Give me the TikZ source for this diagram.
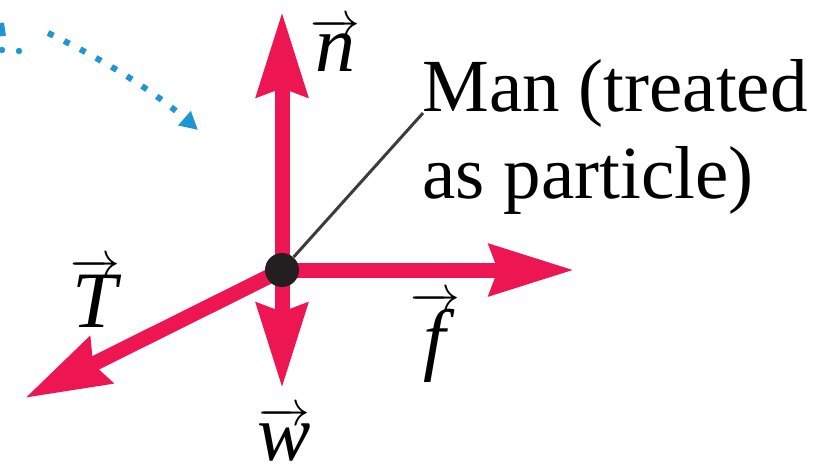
\documentclass[tikz,border=0pt]{standalone}
\usepackage{fontspec}
\setmainfont{Liberation Serif}
\newfontfamily\sertext{Liberation Serif}
\usetikzlibrary{arrows.meta}
\definecolor{forcecol}{RGB}{237,22,82}
\definecolor{dotblue}{RGB}{30,150,210}
\definecolor{dotblack}{RGB}{35,31,32}
\definecolor{leadercol}{RGB}{60,60,60}
\newcommand\vlab[1]{$\overrightarrow{\textit{#1}}$}
\begin{document}
\begin{tikzpicture}[x=0.5pt,y=-0.5pt,
  forcearrow/.style={draw=forcecol, line width=7.5pt, -{Stealth[length=42pt,width=25pt,inset=4pt]}},
  lab/.style={font=\sertext\fontsize{40}{48}\selectfont, inner sep=0pt, anchor=base},
  desc/.style={font=\sertext\fontsize{37.5}{43}\selectfont, inner sep=0pt, anchor=base west},
  motion/.style={draw=dotblue, line width=3pt, dash pattern=on 3pt off 6pt},
]
\useasboundingbox (0,0) rectangle (833,465);
% coordinates
\coordinate (c) at (282,270);
\coordinate (ntip) at (282,12);
\coordinate (wtip) at (282,388);
\coordinate (ftip) at (574,270);
\coordinate (Ttip) at (25,398);
\coordinate (lead) at (423,113);
\coordinate (m0) at (48,33);
\coordinate (m1) at (198,130);
% motion indication (dotted)
\draw[motion, -{Triangle[length=9pt,width=9pt]}] (m0) .. controls (100,58) and (150,88) .. (m1);
\draw[dotblue, line width=3pt] (1,23) -- (3,36);
\fill[dotblue] (2,50) circle (1.6pt) (19,51) circle (1.6pt);
% forces
\draw[forcearrow] (c) -- (Ttip);
\draw[forcearrow] (c) -- (wtip);
\draw[forcearrow] (c) -- (ftip);
\draw[forcearrow] (c) -- (ntip);
% particle
\node[circle, fill=dotblack, minimum size=17pt, inner sep=0pt] (dot) at (c) {};
\draw[leadercol, line width=1.5pt] (dot) -- (lead);
% labels
\node[lab] (nl) at (335,72) {\vlab{n}};
\node[lab] (Tl) at (95,327) {\vlab{T}};
\node[lab] (wl) at (284,460) {\vlab{w}};
\node[lab] (fl) at (435,365) {\vlab{f}};
\node[desc] (man1) at (422,112) {Man (treated};
\node[desc] (man2) at (422,198) {as particle)};
\end{tikzpicture}
\end{document}
